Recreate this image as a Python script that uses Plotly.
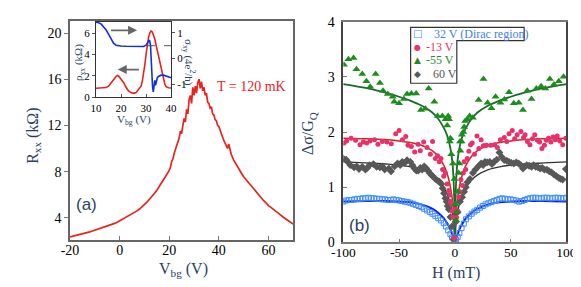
import plotly.graph_objects as go

W, H = 581, 287

# ---------------- panel (a): R_xx vs V_bg ----------------
vbg = [-20, -19, -18, -17, -16, -15, -14, -13, -12, -11, -10, -9, -8, -7, -6, -5, -4, -3, -2, -1,
       0, 1, 2, 3, 4, 5, 6, 7, 8, 9, 10, 11, 12, 13, 14, 15, 16, 17, 18, 19,
       20, 20.5, 21, 21.5, 22, 22.5, 23, 23.5, 24, 24.5, 25, 25.5, 26, 26.5, 27, 27.5, 28, 28.5, 29, 29.5,
       30, 30.5, 31, 31.5, 32, 32.5, 33, 33.5, 34, 34.5, 35, 35.5, 36, 36.5, 37, 37.5, 38, 38.5, 39, 39.5,
       40, 40.5, 41, 41.5, 42, 42.5, 43, 43.5, 44,
       45, 46, 47, 48, 49, 50, 51, 52, 53, 54, 55, 56, 57, 58, 59, 60, 61, 62, 63, 64, 65, 66, 67, 68, 69, 70]
rxx = [2.35, 2.40, 2.44, 2.50, 2.56, 2.62, 2.66, 2.73, 2.78, 2.86, 2.93, 2.98, 3.06, 3.12, 3.22, 3.28, 3.36, 3.45, 3.52, 3.62,
       3.74, 3.82, 3.95, 4.05, 4.18, 4.32, 4.45, 4.60, 4.76, 4.95, 5.12, 5.35, 5.60, 5.82, 6.10, 6.38, 6.70, 7.00, 7.35, 7.75,
       8.10, 8.40, 8.90, 9.10, 9.60, 9.90, 10.2, 10.6, 10.9, 11.5, 11.3, 12.0, 12.6, 12.3, 13.4, 13.0, 14.2, 14.6, 13.9, 15.3,
       14.6, 15.4, 14.8, 15.7, 16.0, 15.2, 15.8, 15.0, 15.3, 14.6, 14.8, 14.0, 13.9, 13.5, 13.6, 13.0, 12.9, 12.5, 12.4, 12.0,
       11.9, 11.6, 11.2, 11.0, 10.7, 10.5, 10.3, 10.0, 10.4,
       9.5, 9.0, 8.6, 8.2, 7.9, 7.55, 7.3, 7.0, 6.7, 6.45, 6.2, 6.0, 5.75, 5.5, 5.3, 5.05, 4.9, 4.7, 4.55, 4.4, 4.2, 4.05, 3.9, 3.75, 3.6, 3.45]

# inset
ins_v_rho = [10, 11, 12, 13, 14, 15, 16, 17, 18, 18.5, 19, 20, 21, 22, 23, 24, 25, 26, 27, 28, 28.5, 29, 29.5,
             30, 30.5, 31, 31.5, 32, 32.5, 33, 33.5, 34, 34.5, 35, 35.5, 36, 36.5, 37, 37.5, 38, 39, 40]
ins_rho = [0.85, 0.87, 0.86, 0.90, 0.92, 1.05, 1.30, 1.65, 1.95, 2.05, 2.00, 1.75, 1.40, 0.95, 0.60, 0.45, 0.38, 0.45, 0.70, 1.05, 1.50, 2.10, 3.00,
           4.00, 5.00, 5.60, 6.00, 6.20, 6.10, 5.80, 5.45, 4.90, 4.40, 3.80, 3.20, 2.60, 2.10, 1.60, 1.25, 1.00, 0.90, 0.88]
ins_v_sig = [10, 11, 12, 13, 14, 15, 16, 17, 18, 19, 20, 22, 24, 26, 28, 29, 30, 30.5, 31, 31.4, 31.8, 32.2, 32.6, 32.9,
             33.2, 33.5, 33.8, 34.1, 34.5, 35, 36, 37, 38, 39, 40]
ins_sig = [1.42, 1.40, 1.35, 1.25, 1.12, 0.95, 0.75, 0.60, 0.52, 0.50, 0.49, 0.48, 0.47, 0.46, 0.45, 0.47, 0.52, 0.60, 0.68, 0.72, 0.50, -0.40, -1.10, -1.30,
           -0.90, -0.85, -1.05, -0.85, -0.75, -0.70, -0.65, -0.65, -0.68, -0.70, -0.75]

# ---------------- panel (b): delta sigma vs H ----------------
h_32 = [-100, -97.5, -95, -92.5, -90, -87.5, -85, -82.5, -80, -77.5, -75, -72.5, -70, -67.5, -65, -62.5, -60, -57.5, -55, -52.5, -50,
        -47.5, -45, -42.5, -40, -37.5, -35, -32.5, -30, -27.5, -25, -22.5, -20, -17.5, -15, -12.5,
        -10, -8, -6, -4, -2.5, -1, 0,
        1, 2.5, 4, 6, 8, 10,
        12.5, 15, 17.5, 20, 22.5, 25, 27.5, 30, 32.5, 35, 37.5, 40, 42.5, 45, 47.5,
        50, 52.5, 55, 57.5, 60, 62.5, 65, 67.5, 70, 72.5, 75, 77.5, 80, 82.5, 85, 87.5, 90, 92.5, 95, 97.5, 100]
ds_32 = [0.74, 0.76, 0.77, 0.77, 0.78, 0.79, 0.79, 0.80, 0.80, 0.81, 0.80, 0.80, 0.79, 0.79, 0.78, 0.78, 0.77, 0.77, 0.78, 0.77, 0.76,
         0.75, 0.74, 0.73, 0.72, 0.70, 0.68, 0.66, 0.64, 0.61, 0.58, 0.55, 0.52, 0.48, 0.44, 0.40,
         0.35, 0.29, 0.22, 0.15, 0.09, 0.05, 0.02,
         0.05, 0.10, 0.17, 0.26, 0.34, 0.42,
         0.47, 0.52, 0.56, 0.59, 0.63, 0.66, 0.69, 0.71, 0.73, 0.75, 0.77, 0.79, 0.80, 0.79, 0.78,
         0.78, 0.77, 0.76, 0.74, 0.75, 0.77, 0.79, 0.80, 0.81, 0.81, 0.80, 0.80, 0.81, 0.81, 0.80, 0.80, 0.81, 0.81, 0.80, 0.80, 0.81]

h_m13 = [-99.4, -97, -93, -89, -85, -82, -79, -76, -72, -69, -65, -61, -57, -53, -50, -47, -44, -42, -39, -36, -33, -31, -28, -25, -22,
         -20, -17.5, -15.5, -14, -12.5, -11, -10, -8.5, -7, -5.5, -4.5, -4, -3, -2.5, -1.8, -1.1, 0,
         0.6, 1.5, 2.6, 3.5, 4.5, 5.4, 6.9, 7.5, 8.3, 9.7, 11, 12.5, 14, 15.5, 17.5, 19.8, 21.5, 23.5, 25.5, 27, 28.4,
         32.2, 35.6, 38, 40.8, 44.3, 46.5, 48.5, 51.4, 53.5, 55.8, 59.2, 61.5, 62.9, 65, 67.2, 69.5, 71.6, 74, 75.9,
         78, 80.2, 82, 83.9, 86, 87.9, 90, 91.7, 94, 96.6, 99.4]
ds_m13 = [1.80, 1.84, 1.89, 1.85, 1.77, 1.82, 1.80, 1.84, 1.86, 1.78, 1.83, 1.82, 1.79, 1.97, 2.03, 1.86, 1.92, 1.76, 1.74, 1.64, 1.78, 1.66, 1.82, 1.72, 1.60,
          1.83, 1.52, 1.57, 1.46, 1.52, 1.32, 1.20, 1.26, 1.06, 0.94, 0.86, 0.74, 0.69, 0.57, 0.46, 0.08, 0.09,
          0.60, 0.45, 0.57, 0.83, 0.92, 1.14, 1.03, 1.26, 1.46, 1.32, 1.52, 1.65, 1.77, 1.80, 1.60, 1.93, 1.70, 1.86, 1.75, 1.75, 1.76,
          1.76, 1.77, 1.72, 1.86, 1.90, 1.83, 1.97, 2.03, 1.88, 1.95, 2.01, 1.90, 1.95, 1.83, 1.77, 1.88, 1.95, 1.85, 1.82,
          1.70, 1.76, 1.85, 1.89, 1.82, 1.91, 1.86, 1.93, 1.84, 1.77, 1.89]

h_m55 = [-99.4, -95.4, -90.8, -88.2, -83, -79.3, -75.9, -71, -67.2, -64.4, -60.1, -55.8, -54.3, -50, -45.7, -42.8, -39, -34.7,
         -30.4, -26.4, -23.5, -18.4, -15.5, -11.2, -8.4, -6.9, -6.0, -5.2, -4.6, -4.0, -3.2, -1.7, -0.3,
         0.3, 1.1, 1.7, 2.6, 3.4, 4.0, 4.6, 4.9, 6.0, 6.3, 7.5, 8.3, 9.2, 11.2, 13.2, 16.1, 21.3, 25.6, 29.3, 32.8,
         36.5, 40.8, 44.3, 48.5, 52.8, 57.2, 61, 64.9, 68.7, 73, 77.3, 81, 85.1, 88.8, 93.1, 97.4]
ds_m55 = [3.22, 3.32, 3.34, 3.14, 3.05, 2.92, 2.82, 3.05, 2.89, 2.75, 2.69, 2.64, 2.55, 2.52, 2.60, 2.69, 2.70, 2.70,
          2.40, 2.42, 2.79, 2.55, 2.29, 2.29, 2.23, 2.12, 2.29, 2.23, 1.83, 1.89, 1.60, 1.43, 1.15,
          0.69, 0.40, 0.55, 0.92, 1.26, 1.43, 1.83, 1.66, 1.83, 1.95, 2.00, 2.09, 2.20, 2.23, 2.29, 2.26, 2.58, 2.96, 2.53, 2.43,
          2.64, 2.53, 2.59, 2.72, 2.52, 2.53, 2.40, 2.75, 2.60, 2.79, 2.83, 2.79, 2.96, 2.86, 2.92, 3.00]

h_60 = [-100, -97.4, -95.5, -93.7, -90.3, -88, -85.9, -83, -80.2, -78.5, -76.5, -73, -70.1, -67.2, -65, -62.9, -59.2, -57.2,
        -54, -51.4, -49, -47.2, -45, -42.8, -39.9, -38, -36.2, -34.5, -32.8, -31, -29.3, -27.5, -25.6, -24, -22.7, -21,
        -19.8, -17.5, -15.5, -13.8, -12.1, -11, -9.8, -8.5, -7.5, -6.5, -5.5, -4, -2.6, -1.1,
        0.6, 2.5, 4.6, 6.5, 8.3, 9.8, 11.2, 13.5, 16.1, 18.4, 21, 23.5, 25.3, 27, 29, 31.3, 33.2, 35.1, 37.5, 39.9,
        42, 44.3, 46.5, 48.5, 50.5, 52.8, 55, 57.2, 59, 61, 62.8, 64.4, 66.5, 68.7, 70.5, 72.4, 74.5, 76.4, 78.3,
        80.2, 82.4, 84.5, 86.6, 88.8, 91, 93.1, 94.8, 96.6, 99.4]
ds_60 = [1.52, 1.50, 1.45, 1.40, 1.36, 1.38, 1.33, 1.37, 1.32, 1.35, 1.40, 1.42, 1.37, 1.36, 1.38, 1.32, 1.34, 1.29,
         1.38, 1.43, 1.40, 1.46, 1.44, 1.49, 1.46, 1.40, 1.34, 1.30, 1.30, 1.35, 1.32, 1.38, 1.34, 1.30, 1.26, 1.22,
         1.20, 1.15, 1.12, 1.10, 1.06, 0.98, 0.89, 0.80, 0.74, 0.66, 0.60, 0.46, 0.29, 0.06,
         0.37, 0.55, 0.74, 0.82, 0.92, 1.00, 1.09, 1.15, 1.26, 1.32, 1.38, 1.43, 1.40, 1.46, 1.45, 1.46, 1.42, 1.46, 1.50, 1.63,
         1.55, 1.49, 1.48, 1.46, 1.44, 1.43, 1.45, 1.43, 1.40, 1.34, 1.38, 1.40, 1.39, 1.37, 1.40, 1.37, 1.36, 1.34, 1.35,
         1.32, 1.32, 1.29, 1.27, 1.23, 1.20, 1.17, 1.15, 1.14, 1.33]

# fit curves
h_fit = [-100, -80, -60, -50, -40, -30, -20, -15, -10, -7, -5, -3, -2, -1, -0.5, 0,
         0.5, 1, 2, 3, 5, 7, 10, 15, 20, 30, 40, 50, 60, 80, 100]
fit_32 = [0.74, 0.75, 0.75, 0.74, 0.73, 0.69, 0.61, 0.54, 0.44, 0.35, 0.28, 0.18, 0.13, 0.07, 0.03, 0.0,
          0.03, 0.07, 0.13, 0.18, 0.28, 0.35, 0.44, 0.54, 0.61, 0.69, 0.73, 0.74, 0.75, 0.75, 0.74]
fit_m13 = [1.89, 1.88, 1.86, 1.84, 1.81, 1.76, 1.66, 1.56, 1.40, 1.25, 1.10, 0.88, 0.72, 0.48, 0.28, 0.0,
           0.28, 0.48, 0.72, 0.88, 1.10, 1.25, 1.40, 1.56, 1.66, 1.76, 1.81, 1.84, 1.86, 1.88, 1.89]
fit_m55 = [2.87, 2.80, 2.70, 2.64, 2.57, 2.48, 2.35, 2.24, 2.08, 1.94, 1.80, 1.58, 1.40, 1.05, 0.70, 0.0,
           0.70, 1.05, 1.40, 1.58, 1.80, 1.94, 2.08, 2.24, 2.35, 2.48, 2.57, 2.64, 2.70, 2.80, 2.87]
fit_60 = [1.46, 1.44, 1.42, 1.40, 1.37, 1.32, 1.22, 1.13, 1.00, 0.88, 0.77, 0.61, 0.50, 0.33, 0.20, 0.0,
          0.20, 0.33, 0.50, 0.61, 0.77, 0.88, 1.00, 1.13, 1.22, 1.32, 1.37, 1.40, 1.42, 1.44, 1.46]

legend_labels = ["32 V (Dirac region)", "-13 V", "-55 V", "60 V"]

SERIF = "Liberation Serif"
SANS = "Liberation Sans"

C_BLUE_PT, C_BLUE_LN, C_BLUE_TX = "#3f8cff", "#0a1fe0", "#3d7fe6"
C_RED_PT, C_RED_LN, C_RED_TX = "#e8306a", "#d62020", "#e8336b"
C_GRN_PT, C_GRN_LN, C_GRN_TX = "#1c8c1c", "#1b6a2c", "#2a8a2a"
C_GRY_PT, C_GRY_LN, C_GRY_TX = "#585858", "#333333", "#555555"

fig = go.Figure()

# panel (a)
fig.add_trace(go.Scatter(x=vbg, y=rxx, mode="lines", line=dict(color="#e8231e", width=1.7),
                         xaxis="x", yaxis="y", showlegend=False))
# inset
fig.add_trace(go.Scatter(x=ins_v_rho, y=ins_rho, mode="lines", line=dict(color="#e82020", width=1.6),
                         xaxis="x2", yaxis="y2", showlegend=False))
fig.add_trace(go.Scatter(x=ins_v_sig, y=ins_sig, mode="lines", line=dict(color="#1030e0", width=1.6),
                         xaxis="x2", yaxis="y3", showlegend=False))

# panel (b) fits
for f, c, w in [(fit_32, C_BLUE_LN, 2), (fit_60, C_GRY_LN, 1.3), (fit_m13, C_RED_LN, 1.5), (fit_m55, C_GRN_LN, 1.8)]:
    fig.add_trace(go.Scatter(x=h_fit, y=f, mode="lines", line=dict(color=c, width=w, shape="spline", smoothing=0.6),
                             xaxis="x4", yaxis="y4", showlegend=False))

# panel (b) data
fig.add_trace(go.Scatter(x=h_32, y=ds_32, mode="markers", xaxis="x4", yaxis="y4", name=legend_labels[0],
                         showlegend=False,
                         marker=dict(symbol="square-open", size=5, color=C_BLUE_PT, line=dict(width=1))))
fig.add_trace(go.Scatter(x=h_60, y=ds_60, mode="markers", xaxis="x4", yaxis="y4", name=legend_labels[3],
                         showlegend=False, marker=dict(symbol="diamond", size=6, color=C_GRY_PT)))
fig.add_trace(go.Scatter(x=h_m13, y=ds_m13, mode="markers", xaxis="x4", yaxis="y4", name=legend_labels[1],
                         showlegend=False, marker=dict(symbol="circle", size=5, color=C_RED_PT)))
fig.add_trace(go.Scatter(x=h_m55, y=ds_m55, mode="markers", xaxis="x4", yaxis="y4", name=legend_labels[2],
                         showlegend=False, marker=dict(symbol="triangle-up", size=7, color=C_GRN_PT)))


def px(x):
    return x / W


def py(y):
    return 1 - y / H


tickfont = dict(family=SERIF, size=14, color="black")
tickfont_b = dict(family=SERIF, size=13.5, color="black")
small = dict(family=SERIF, size=11, color="black")
common = dict(showgrid=False, zeroline=False, ticklabeloverflow="allow")

fig.update_layout(
    width=W, height=H, margin=dict(l=0, r=0, t=0, b=0),
    paper_bgcolor="white", plot_bgcolor="white", showlegend=False,
    xaxis=dict(domain=[px(52), px(284)], anchor="y", range=[-20, 70], tickvals=[-20, 0, 20, 40, 60],
               ticktext=["-20", "0", "20", "40", "60"], ticklabelstandoff=-3,
               ticks="inside", ticklen=4, tickcolor="#777", showline=True, linecolor="#666", linewidth=1.5,
               mirror=True, tickfont=tickfont, **common),
    yaxis=dict(domain=[py(237), py(6)], anchor="x", range=[2.11, 21.07], tickvals=[4, 8, 12, 16, 20],
               ticks="outside", ticklen=4, tickcolor="#777", showline=True, linecolor="#666", linewidth=1.5,
               mirror=True, tickfont=tickfont, **common),
    xaxis2=dict(domain=[px(79), px(157)], anchor="y2", range=[10, 40], tickvals=[10, 20, 30, 40],
                ticks="inside", ticklen=3, tickcolor="#555", showline=True, linecolor="#333", linewidth=1,
                mirror=True, tickfont=small, **common),
    yaxis2=dict(domain=[py(87), py(7)], anchor="x2", range=[0, 7.06], tickvals=[0, 2, 4, 6],
                ticks="outside", ticklen=3, tickcolor="#555", showline=True, linecolor="#333", linewidth=1,
                mirror=True, tickfont=small, **common),
    yaxis3=dict(overlaying="y2", side="right", anchor="x2", range=[-1.52, 1.44], tickvals=[-1, 0, 1],
                ticktext=["-1", "0", "1"],
                ticks="outside", ticklen=3, tickcolor="#555", showline=False, tickfont=small, **common),
    xaxis4=dict(domain=[px(336), px(568)], anchor="y4", range=[-100, 100], tickvals=[-100, -50, 0, 50, 100],
                ticktext=["-100", "-50", "0", "50", "100"], ticklabelstandoff=-3,
                ticks="inside", ticklen=4, tickcolor="#777", showline=True, linecolor="#777", linewidth=1.5,
                mirror=True, tickfont=tickfont_b, **common),
    yaxis4=dict(domain=[py(240), py(7)], anchor="x4", range=[0, 4.0005], tickvals=[0, 1, 2, 3, 4],
                ticklabelstandoff=4,
                ticks="inside", ticklen=4, tickcolor="#777", showline=True, linecolor="#444", linewidth=1.5,
                mirror=True, tickfont=tickfont, **common),
)

ann = [
    dict(text="R<sub>xx</sub> (kΩ)", x=px(14), y=py(127), textangle=-90, font=dict(family=SERIF, size=16)),
    dict(text="V<sub>bg</sub> (V)", x=px(170), y=py(269), font=dict(family=SERIF, size=16)),
    dict(text="T = 120 mK", x=px(241), y=py(75), font=dict(family=SERIF, size=14, color="#e8231e")),
    dict(text="(a)", x=px(69), y=py(200), font=dict(family=SANS, size=17)),
    dict(text="ρ<sub>xx</sub> (kΩ)", x=px(62), y=py(50), textangle=-90, font=dict(family=SERIF, size=11)),
    dict(text="σ<sub>xy</sub> (4e<sup>2</sup>/h)", x=px(175), y=py(50), textangle=90, font=dict(family=SERIF, size=11)),
    dict(text="V<sub>bg</sub> (V)", x=px(119), y=py(111), font=dict(family=SERIF, size=11)),
    dict(text="Δσ/G<sub>Q</sub>", x=px(300), y=py(125), textangle=-90, font=dict(family=SERIF, size=16)),
    dict(text="H (mT)", x=px(453), y=py(272), font=dict(family=SERIF, size=16)),
    dict(text="(b)", x=px(353), y=py(222), font=dict(family=SANS, size=17)),
]
for a in ann:
    a.update(xref="paper", yref="paper", showarrow=False, xanchor="center", yanchor="middle")
    fig.add_annotation(**a)

# legend for panel (b), drawn as text rows inside an L-shaped frame
leg_rows = [
    ("\u25a1", C_BLUE_PT, legend_labels[0], C_BLUE_TX, 20, 428, 10),
    ("\u25cf", C_RED_PT, legend_labels[1], C_RED_TX, 34, 420, 8),
    ("\u25b2", C_GRN_PT, legend_labels[2], C_GRN_TX, 48, 420, 9),
    ("\u25c6", C_GRY_PT, legend_labels[3], C_GRY_TX, 62, 427, 9),
]
for glyph, gc, label, tc, yy, tx, gs in leg_rows:
    fig.add_annotation(text=glyph, x=px(413), y=py(yy), xref="paper", yref="paper", showarrow=False,
                       xanchor="center", yanchor="middle", font=dict(family="DejaVu Sans", size=gs, color=gc))
    fig.add_annotation(text=label, x=px(tx), y=py(yy), xref="paper", yref="paper", showarrow=False,
                       xanchor="left", yanchor="middle", font=dict(family=SERIF, size=12, color=tc))

# arrows in the inset
fig.add_annotation(x=26.4, y=6.25, ax=15.4, ay=6.25, xref="x2", yref="y2", axref="x2", ayref="y2",
                   showarrow=True, arrowhead=2, arrowsize=1, arrowwidth=1.8, arrowcolor="#666", text="")
fig.add_annotation(x=18.7, y=2.6, ax=27.7, ay=2.6, xref="x2", yref="y2", axref="x2", ayref="y2",
                   showarrow=True, arrowhead=2, arrowsize=1, arrowwidth=1.8, arrowcolor="#666", text="")

# dashed reference line in the inset (right axis)
fig.add_shape(type="line", x0=30, x1=40, y0=0.5, y1=0.5, xref="x2", yref="y3",
              line=dict(color="#555", width=1, dash="dash"))

# L-shaped legend frame
pts = [(406, 13), (524, 13), (524, 27), (454, 27), (454, 72), (406, 72)]
path = "M " + " L ".join(f"{px(a):.5f},{py(b):.5f}" for a, b in pts) + " Z"
fig.add_shape(type="path", path=path, xref="paper", yref="paper", line=dict(color="#333", width=1.2),
              fillcolor="rgba(0,0,0,0)", layer="above")

fig.write_html("out.html")
